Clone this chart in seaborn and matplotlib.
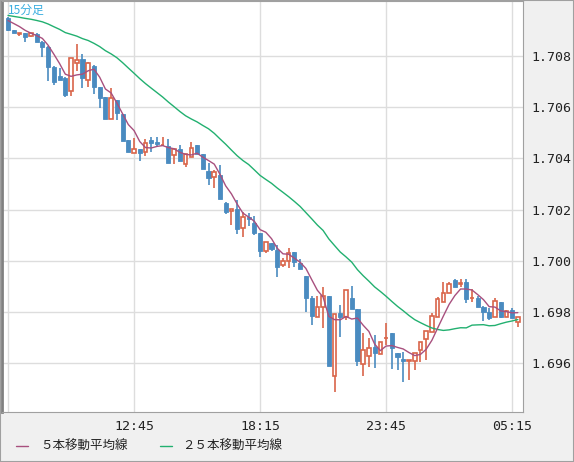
import numpy as np
import pandas as pd
import matplotlib
matplotlib.use("Agg")
import matplotlib.pyplot as plt
from matplotlib.lines import Line2D
import seaborn as sns

# 15-minute bars, 07:15 .. 05:30
opens = [1.70949, 1.70902, 1.70886, 1.70890, 1.70878, 1.70886, 1.70855, 1.70835, 1.70757, 1.70722,
         1.70714, 1.70664, 1.70773, 1.70789, 1.70707, 1.70761, 1.70679, 1.70640, 1.70554, 1.70628,
         1.70574, 1.70472, 1.70421, 1.70437, 1.70425, 1.70472, 1.70464, 1.70451, 1.70449, 1.70414,
         1.70437, 1.70378, 1.70406, 1.70453, 1.70417, 1.70351, 1.70328, 1.70335, 1.70226, 1.70195,
         1.70203, 1.70128, 1.70171, 1.70148, 1.70109, 1.70039, 1.70070, 1.70042, 1.69984, 1.70000,
         1.70035, 1.69992, 1.69941, 1.69855, 1.69781, 1.69820, 1.69863, 1.69550, 1.69796, 1.69781,
         1.69855, 1.69812, 1.69597, 1.69628, 1.69664, 1.69636, 1.69697, 1.69718, 1.69640, 1.69617,
         1.69609, 1.69609, 1.69652, 1.69695, 1.69722, 1.69781, 1.69839, 1.69875, 1.69925, 1.69910,
         1.69918, 1.69853, 1.69855, 1.69820, 1.69800, 1.69781, 1.69839, 1.69781, 1.69808, 1.69761]
highs = [1.70953, 1.70902, 1.70890, 1.70890, 1.70890, 1.70890, 1.70859, 1.70839, 1.70761, 1.70753,
         1.70718, 1.70792, 1.70847, 1.70808, 1.70777, 1.70765, 1.70679, 1.70640, 1.70675, 1.70628,
         1.70574, 1.70472, 1.70480, 1.70437, 1.70476, 1.70484, 1.70484, 1.70484, 1.70476, 1.70437,
         1.70453, 1.70417, 1.70464, 1.70453, 1.70417, 1.70382, 1.70355, 1.70374, 1.70230, 1.70203,
         1.70238, 1.70191, 1.70187, 1.70175, 1.70109, 1.70074, 1.70070, 1.70062, 1.70011, 1.70050,
         1.70035, 1.70007, 1.69941, 1.69863, 1.69863, 1.69898, 1.69863, 1.69793, 1.69828, 1.69886,
         1.69902, 1.69812, 1.69718, 1.69699, 1.69710, 1.69683, 1.69757, 1.69718, 1.69640, 1.69644,
         1.69613, 1.69640, 1.69683, 1.69726, 1.69796, 1.69859, 1.69918, 1.69918, 1.69929, 1.69929,
         1.69929, 1.69890, 1.69863, 1.69824, 1.69816, 1.69855, 1.69839, 1.69808, 1.69816, 1.69781]
lows = [1.70898, 1.70890, 1.70878, 1.70855, 1.70874, 1.70855, 1.70796, 1.70703, 1.70687, 1.70707,
        1.70640, 1.70644, 1.70742, 1.70675, 1.70679, 1.70652, 1.70597, 1.70554, 1.70554, 1.70550,
        1.70468, 1.70425, 1.70421, 1.70390, 1.70410, 1.70425, 1.70445, 1.70449, 1.70382, 1.70378,
        1.70390, 1.70367, 1.70406, 1.70417, 1.70359, 1.70296, 1.70285, 1.70242, 1.70183, 1.70140,
        1.70105, 1.70093, 1.70136, 1.70101, 1.70015, 1.70031, 1.70039, 1.69937, 1.69976, 1.69972,
        1.69976, 1.69968, 1.69800, 1.69750, 1.69781, 1.69738, 1.69589, 1.69488, 1.69703, 1.69769,
        1.69812, 1.69589, 1.69550, 1.69586, 1.69582, 1.69636, 1.69671, 1.69578, 1.69574, 1.69527,
        1.69535, 1.69574, 1.69605, 1.69613, 1.69722, 1.69781, 1.69839, 1.69875, 1.69898, 1.69898,
        1.69835, 1.69839, 1.69820, 1.69765, 1.69769, 1.69781, 1.69777, 1.69781, 1.69777, 1.69742]
closes = [1.70902, 1.70890, 1.70890, 1.70874, 1.70890, 1.70855, 1.70835, 1.70757, 1.70699, 1.70707,
          1.70648, 1.70792, 1.70785, 1.70714, 1.70773, 1.70679, 1.70636, 1.70554, 1.70636, 1.70578,
          1.70468, 1.70425, 1.70437, 1.70421, 1.70460, 1.70460, 1.70456, 1.70453, 1.70382, 1.70437,
          1.70390, 1.70417, 1.70441, 1.70417, 1.70359, 1.70324, 1.70347, 1.70242, 1.70191, 1.70203,
          1.70125, 1.70171, 1.70164, 1.70109, 1.70039, 1.70074, 1.70046, 1.69976, 1.70000, 1.70031,
          1.69996, 1.69968, 1.69855, 1.69785, 1.69820, 1.69863, 1.69589, 1.69793, 1.69781, 1.69886,
          1.69812, 1.69609, 1.69652, 1.69660, 1.69640, 1.69683, 1.69699, 1.69660, 1.69625, 1.69609,
          1.69613, 1.69640, 1.69683, 1.69726, 1.69785, 1.69851, 1.69875, 1.69910, 1.69898, 1.69914,
          1.69851, 1.69855, 1.69820, 1.69800, 1.69777, 1.69843, 1.69781, 1.69804, 1.69777, 1.69781]
# closes before the visible window, needed for the moving averages
prior_closes = [1.70985, 1.70980, 1.70978, 1.70975, 1.70972, 1.70970, 1.70968, 1.70966,
                1.70965, 1.70963, 1.70962, 1.70960, 1.70958, 1.70957, 1.70955, 1.70954,
                1.70953, 1.70952, 1.70950, 1.70950, 1.70948, 1.70950, 1.70948, 1.70945]

x_ticks = [0, 22, 44, 66, 88]
x_labels = ["", "12:45", "18:15", "23:45", "05:15"]
y_ticks = [1.696, 1.698, 1.700, 1.702, 1.704, 1.706, 1.708]

UP = "#d9654a"
DOWN = "#4a8bc0"
MA5_C = "#a8507e"
MA25_C = "#22b070"

df = pd.DataFrame({"o": opens, "h": highs, "l": lows, "c": closes})
df["i"] = np.arange(len(df))
allc = pd.Series(prior_closes + closes)
df["ma5"] = allc.rolling(5).mean().iloc[len(prior_closes):].to_numpy()
df["ma25"] = allc.rolling(25).mean().iloc[len(prior_closes):].to_numpy()

sns.set_style("white")
plt.rcParams["font.family"] = ["DejaVu Sans", "Noto Sans CJK JP"]

fig = plt.figure(figsize=(5.74, 4.62), dpi=100, facecolor="#f0f0f0")
ax = fig.add_axes([2 / 574, 1 - 412 / 462, 521 / 574, 411 / 462])
ax.set_facecolor("white")

up = df[df.c >= df.o]
dn = df[df.c < df.o]
ax.vlines(df.i, df.l, df.h, color=[UP if c >= o else DOWN for o, c in zip(df.o, df.c)],
          linewidth=1.2, zorder=2)
ax.bar(dn.i, dn.o - dn.c, bottom=dn.c, width=0.72, color=DOWN, edgecolor=DOWN,
       linewidth=0.6, zorder=3)
ax.bar(up.i, np.maximum(up.c - up.o, 0.000008), bottom=up.o, width=0.62, color="white",
       edgecolor=UP, linewidth=1.2, zorder=3)

sns.lineplot(data=df, x="i", y="ma25", color=MA25_C, linewidth=1, ax=ax, zorder=4)
sns.lineplot(data=df, x="i", y="ma5", color=MA5_C, linewidth=1, ax=ax, zorder=4)

ax.set_xlim(-1.05, 89.9)
ax.set_ylim(1.69409, 1.71015)
ax.set_xticks(x_ticks)
ax.set_xticklabels(x_labels)
ax.set_yticks(y_ticks)
ax.set_yticklabels([f"{v:.3f}" for v in y_ticks])
ax.yaxis.tick_right()
ax.tick_params(length=0, labelsize=9.5, colors="#222222", pad=6)
for lab in ax.get_xticklabels() + ax.get_yticklabels():
    lab.set_family("DejaVu Sans Mono")
ax.set_xlabel("")
ax.set_ylabel("")
ax.grid(True, color="#dddddd", linewidth=1)
for s in ax.spines.values():
    s.set_color("#a0a0a0")
ax.spines["left"].set_color("#808080")
ax.spines["left"].set_linewidth(2)

ax.text(0.012, 0.993, "15分足", transform=ax.transAxes, ha="left", va="top",
        color="#3aaee0", fontsize=8.5, family=["Noto Sans CJK JP"])

# bottom legend
fy = 1 - 446 / 462
fig.add_artist(Line2D([16 / 574, 28 / 574], [fy, fy], color=MA5_C, linewidth=1))
fig.text(40 / 574, fy, "５本移動平均線", va="center", fontsize=9, color="#222222",
         family=["Noto Sans CJK JP"])
fig.add_artist(Line2D([160 / 574, 172 / 574], [fy, fy], color=MA25_C, linewidth=1))
fig.text(182 / 574, fy, "２５本移動平均線", va="center", fontsize=9, color="#222222",
         family=["Noto Sans CJK JP"])

fig.patches.append(plt.Rectangle((0, 0), 1, 1, transform=fig.transFigure, fill=False,
                                 edgecolor="#a0a0a0", linewidth=1.5))

fig.savefig("out.png", dpi=100, facecolor=fig.get_facecolor())
